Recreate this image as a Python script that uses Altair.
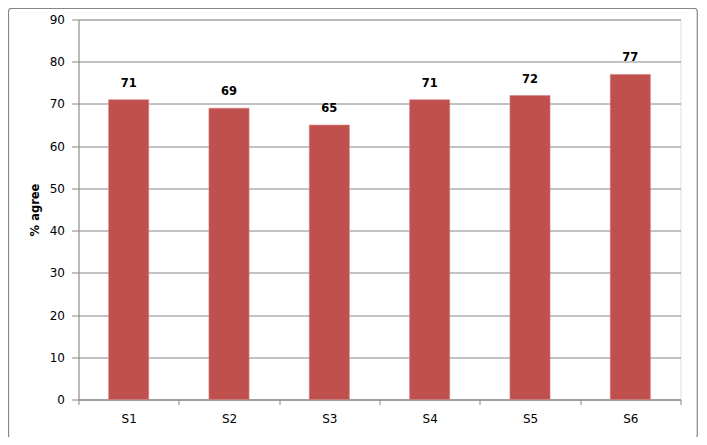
import altair as alt
import pandas as pd

categories = ["S1", "S2", "S3", "S4", "S5", "S6"]
values = [71, 69, 65, 71, 72, 77]
y_ticks = [0, 10, 20, 30, 40, 50, 60, 70, 80, 90]

df = pd.DataFrame({"cat": categories, "val": values})

FONT = "DejaVu Sans"
GRID = "#868686"
W, H = 602, 380

x_enc = alt.X(
    "cat:N",
    sort=categories,
    scale=alt.Scale(paddingInner=0, paddingOuter=0),
    axis=alt.Axis(
        title=None,
        labelAngle=0,
        tickBand="extent",
        tickSize=5,
        tickColor=GRID,
        domainColor=GRID,
        labelPadding=9,
        labelFont=FONT,
        labelFontSize=12,
        labelColor="#000000",
        grid=False,
    ),
)
y_enc = alt.Y(
    "val:Q",
    scale=alt.Scale(domain=[0, 90], nice=False),
    axis=alt.Axis(
        title="% agree",
        values=y_ticks,
        tickSize=7,
        tickColor=GRID,
        domainColor=GRID,
        gridColor=GRID,
        gridOpacity=1,
        labelPadding=7,
        labelFont=FONT,
        labelFontSize=12,
        labelColor="#000000",
        titleFont=FONT,
        titleFontSize=11.5,
        titleFontWeight="bold",
        titleColor="#000000",
        titleX=-43.5,
        titleBaseline="middle",
    ),
)

bars = alt.Chart(df).mark_bar(
    width=alt.RelativeBandSize(0.4), color="#C0504D", stroke="#D38583", strokeWidth=0.6
).encode(x=x_enc, y=y_enc)

labels = alt.Chart(df).mark_text(
    font=FONT, fontSize=11.5, fontWeight="bold", color="#000000", baseline="middle", dy=-16
).encode(x=alt.X("cat:N", sort=categories), y="val:Q", text="val:Q")

border_df = pd.DataFrame({"a": [0]})
border = alt.Chart(border_df).mark_rect(
    fill="transparent", stroke=GRID, strokeWidth=1.2, cornerRadius=3
).encode(
    x=alt.value(-70),
    x2=alt.value(618.8),
    y=alt.value(-11),
    y2=alt.value(418.5),
)

chart = alt.layer(bars, labels, border).properties(
    width=W,
    height=H,
    autosize=alt.AutoSizeParams(type="none"),
    padding={"left": 70.5, "top": 11.5, "right": 18, "bottom": 37},
).configure_view(stroke=None).configure(background="white")

chart.save("out.html", embed_options={"renderer": "svg", "actions": False})
